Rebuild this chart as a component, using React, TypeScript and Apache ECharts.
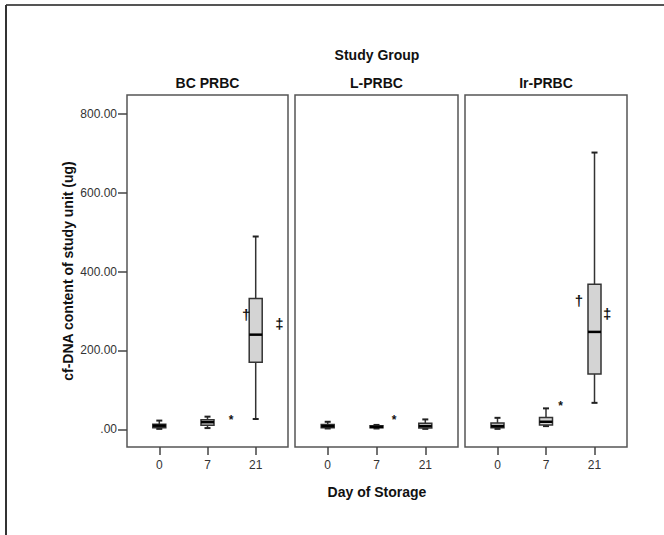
import React, { useEffect, useRef } from "react";
import * as echarts from "echarts";

const dayLabels = ["0", "7", "21"];
const groupNames = ["BC PRBC", "L-PRBC", "Ir-PRBC"];
const yTickValues = [0, 200, 400, 600, 800];

// [dayIndex, min, q1, median, q3, max]
const bcBoxes = [
  [0, 1, 4, 9, 13, 22],
  [1, 3, 10, 18, 24, 32],
  [2, 26, 170, 240, 332, 489],
];
const lBoxes = [
  [0, 2, 4, 8, 12, 19],
  [1, 2, 4, 6, 9, 11],
  [2, 1, 3, 8, 15, 25],
];
const irBoxes = [
  [0, 1, 4, 8, 16, 29],
  [1, 8, 11, 19, 30, 53],
  [2, 67, 140, 247, 368, 702],
];

// [x position (day index units), value, symbol]
const bcMarks = [
  [1.49, 33, "*"],
  [1.8, 290, "†"],
  [2.49, 269, "‡"],
];
const lMarks = [[1.36, 34, "*"]];
const irMarks = [
  [1.3, 70, "*"],
  [1.68, 326, "†"],
  [2.26, 294, "‡"],
];

const allBoxes = [bcBoxes, lBoxes, irBoxes];
const allMarks = [bcMarks, lMarks, irMarks];

const FONT = "'Liberation Sans', Arial, sans-serif";
const gridLefts = [127, 295, 465];
const gridWidths = [161, 163, 162];
const gridTop = 95;
const gridHeight = 352;

export default function App() {
  const ref = useRef<HTMLDivElement>(null);
  useEffect(() => {
    if (!ref.current) return;
    const chart = echarts.init(ref.current, null, { renderer: "svg" });

    const grids = gridLefts.map((l, i) => ({
      left: l,
      top: gridTop,
      width: gridWidths[i],
      height: gridHeight,
      show: true,
      borderColor: "#555",
      borderWidth: 1.5,
      backgroundColor: "#fff",
    }));

    const xAxes = gridLefts.map((_, i) => ({
      type: "value",
      gridIndex: i,
      position: "bottom",
      min: -0.67,
      max: 2.67,
      splitLine: { show: false },
      axisLine: { show: false, onZero: false },
      axisTick: {
        show: true,
        customValues: [0, 1, 2],
        length: 8,
        lineStyle: { color: "#444", width: 1.5 },
      },
      axisLabel: {
        customValues: [0, 1, 2],
        formatter: (v: number) => dayLabels[Math.round(v)],
        fontFamily: FONT,
        fontSize: 12,
        color: "#333",
        margin: 12,
      },
    }));

    const yAxes = gridLefts.map((_, i) => ({
      type: "value",
      gridIndex: i,
      position: "left",
      min: -45,
      max: 848,
      splitLine: { show: false },
      axisLine: { show: false, onZero: false },
      axisTick: {
        show: i === 0,
        customValues: yTickValues,
        length: 9,
        lineStyle: { color: "#444", width: 1.5 },
      },
      axisLabel: {
        show: i === 0,
        customValues: yTickValues,
        formatter: (v: number) => (v === 0 ? ".00" : v.toFixed(2)),
        fontFamily: FONT,
        fontSize: 12,
        color: "#333",
        margin: 10,
      },
    }));

    const boxSeries = allBoxes.map((boxes, i) => ({
      type: "custom",
      xAxisIndex: i,
      yAxisIndex: i,
      data: boxes,
      renderItem: (params: any, api: any) => {
        const x = api.value(0);
        const p = (v: number) => api.coord([x, v]);
        const cx = p(api.value(1))[0];
        const yMin = p(api.value(1))[1];
        const yQ1 = p(api.value(2))[1];
        const yMed = p(api.value(3))[1];
        const yQ3 = p(api.value(4))[1];
        const yMax = p(api.value(5))[1];
        const hw = 6.5;
        const cw = 3;
        const lineStyle = { stroke: "#333", lineWidth: 1.5 };
        return {
          type: "group",
          children: [
            { type: "line", shape: { x1: cx, y1: yMax, x2: cx, y2: yQ3 }, style: lineStyle },
            { type: "line", shape: { x1: cx, y1: yQ1, x2: cx, y2: yMin }, style: lineStyle },
            { type: "line", shape: { x1: cx - cw, y1: yMax, x2: cx + cw, y2: yMax }, style: { stroke: "#222", lineWidth: 2 } },
            { type: "line", shape: { x1: cx - cw, y1: yMin, x2: cx + cw, y2: yMin }, style: { stroke: "#222", lineWidth: 2 } },
            {
              type: "rect",
              shape: { x: cx - hw, y: yQ3, width: hw * 2, height: yQ1 - yQ3 },
              style: { fill: "#d4d4d4", stroke: "#333", lineWidth: 1.5 },
            },
            { type: "line", shape: { x1: cx - hw, y1: yMed, x2: cx + hw, y2: yMed }, style: { stroke: "#000", lineWidth: 2.5 } },
          ],
        };
      },
    }));

    const markSeries = allMarks.map((marks, i) => ({
      type: "custom",
      xAxisIndex: i,
      yAxisIndex: i,
      data: marks.map((m) => [m[0], m[1]]),
      renderItem: (params: any, api: any) => {
        const pt = api.coord([api.value(0), api.value(1)]);
        const sym = marks[params.dataIndex][2] as string;
        const isStar = sym === "*";
        return {
          type: "text",
          x: pt[0],
          y: pt[1] + (isStar ? 4 : 0),
          style: {
            text: sym,
            fontFamily: FONT,
            fontSize: isStar ? 12 : 15,
            fontWeight: "bold",
            fill: "#111",
            align: "center",
            verticalAlign: "middle",
          },
        };
      },
    }));

    const titleStyle = {
      fontFamily: FONT,
      fontWeight: "bold",
      fontSize: 14,
      fill: "#111",
      align: "center",
      verticalAlign: "middle",
    };

    chart.setOption({
      animation: false,
      backgroundColor: "#fff",
      grid: grids,
      xAxis: xAxes,
      yAxis: yAxes,
      series: [...boxSeries, ...markSeries],
      graphic: [
        { type: "line", shape: { x1: 6, y1: 5, x2: 664, y2: 5 }, style: { stroke: "#555", lineWidth: 2 } },
        { type: "line", shape: { x1: 6, y1: 5, x2: 6, y2: 535 }, style: { stroke: "#333", lineWidth: 2 } },
        { type: "text", x: 377, y: 55, style: { ...titleStyle, text: "Study Group" } },
        ...groupNames.map((g, i) => ({
          type: "text",
          x: gridLefts[i] + gridWidths[i] / 2,
          y: 83,
          style: { ...titleStyle, text: g },
        })),
        { type: "text", x: 377, y: 492, style: { ...titleStyle, text: "Day of Storage" } },
        {
          type: "text",
          x: 68,
          y: 271,
          rotation: Math.PI / 2,
          style: { ...titleStyle, text: "cf-DNA content of study unit (ug)" },
        },
      ],
    });
    return () => chart.dispose();
  }, []);
  return (
    <div
      ref={ref}
      style={{ position: "absolute", left: 0, top: 0, width: 664, height: 535 }}
    />
  );
}
